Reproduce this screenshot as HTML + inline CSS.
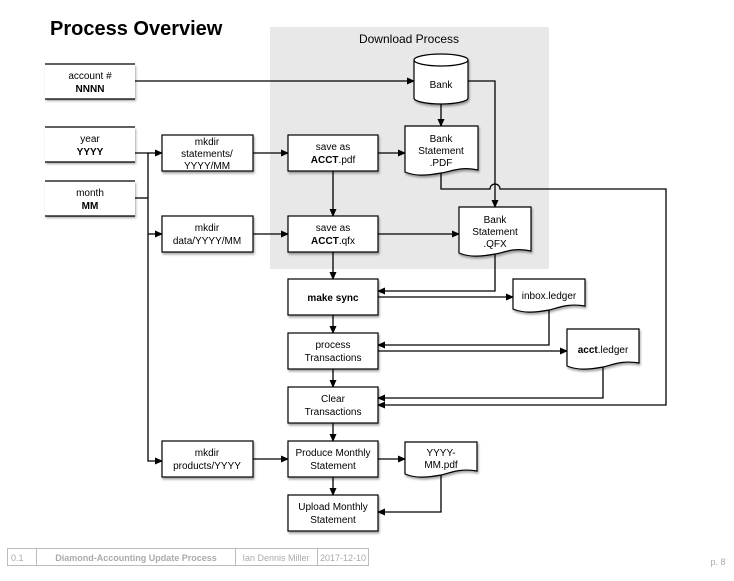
<!DOCTYPE html>
<html><head><meta charset="utf-8"><style>
body{margin:0;background:#fff;width:734px;height:576px;overflow:hidden}
svg text{font-family:"Liberation Sans",sans-serif;font-size:10px;fill:#000}
</style></head><body>
<svg width="734" height="576" viewBox="0 0 734 576" xmlns="http://www.w3.org/2000/svg">
<defs>
<marker id="a" markerWidth="8" markerHeight="8" refX="7" refY="4" orient="auto" markerUnits="userSpaceOnUse"><path d="M0,0.5 L8,4 L0,7.5z" fill="#000"/></marker>
<filter id="s" x="-10%" y="-10%" width="130%" height="140%"><feDropShadow dx="1" dy="2" stdDeviation="1" flood-color="#000" flood-opacity="0.35"/></filter>
</defs>
<text x="50" y="35" style="font-size:20px;font-weight:bold">Process Overview</text>
<rect x="270" y="27" width="279" height="242" fill="#e8e8e8"/>
<text x="409" y="43" text-anchor="middle" style="font-size:12px">Download Process</text>

<g fill="none" stroke="#000" stroke-width="1.3">
<path d="M135,81 H414" marker-end="url(#a)"/>
<path d="M441,104 V126" marker-end="url(#a)"/>
<path d="M468,81 H495 V207" marker-end="url(#a)"/>
<path d="M441,172 V189 H490 A5,5 0 0 1 500,189 H666 V405 H378" marker-end="url(#a)"/>
<path d="M135,153 H148 V461 H162" marker-end="url(#a)"/>
<path d="M135,198 H148"/>
<path d="M148,153 H162" marker-end="url(#a)"/>
<path d="M148,234 H162" marker-end="url(#a)"/>
<path d="M253,153 H288" marker-end="url(#a)"/>
<path d="M253,234 H288" marker-end="url(#a)"/>
<path d="M378,153 H405" marker-end="url(#a)"/>
<path d="M378,234 H459" marker-end="url(#a)"/>
<path d="M333,171 V216" marker-end="url(#a)"/>
<path d="M333,252 V279" marker-end="url(#a)"/>
<path d="M495,254 V291 H378" marker-end="url(#a)"/>
<path d="M378,297 H513" marker-end="url(#a)"/>
<path d="M549,310 V345 H378" marker-end="url(#a)"/>
<path d="M378,351 H567" marker-end="url(#a)"/>
<path d="M603,367 V398 H378" marker-end="url(#a)"/>
<path d="M333,315 V333" marker-end="url(#a)"/>
<path d="M333,369 V387" marker-end="url(#a)"/>
<path d="M333,423 V441" marker-end="url(#a)"/>
<path d="M333,477 V495" marker-end="url(#a)"/>
<path d="M253,459 H288" marker-end="url(#a)"/>
<path d="M378,459 H405" marker-end="url(#a)"/>
<path d="M441,475 V512 H378" marker-end="url(#a)"/>
</g>

<g fill="#fff" stroke="#000" stroke-width="1.2">
<rect x="45" y="64" width="90" height="35" stroke="none" filter="url(#s)"/>
<path d="M45,64 H135 M45,99 H135"/>
<rect x="45" y="127" width="90" height="35" stroke="none" filter="url(#s)"/>
<path d="M45,127 H135 M45,162 H135"/>
<rect x="45" y="181" width="90" height="35" stroke="none" filter="url(#s)"/>
<path d="M45,181 H135 M45,216 H135"/>
</g>
<g fill="#fff" stroke="#000" stroke-width="1.2" filter="url(#s)">
<rect x="162" y="135" width="91" height="36"/>
<rect x="162" y="216" width="91" height="36"/>
<rect x="288" y="135" width="90" height="36"/>
<rect x="288" y="216" width="90" height="36"/>
<rect x="288" y="279" width="90" height="36"/>
<rect x="288" y="333" width="90" height="36"/>
<rect x="288" y="387" width="90" height="36"/>
<rect x="288" y="441" width="90" height="36"/>
<rect x="288" y="495" width="90" height="36"/>
<rect x="162" y="441" width="91" height="36"/>
<path d="M414,60 V98 A27,6 0 0 0 468,98 V60 A27,6 0 0 0 414,60 A27,6 0 0 0 468,60"/>
<path d="M405,126 H478 V170 C460,166 450,172 441,173 C425,176 415,176 405,172 Z"/>
<path d="M459,207 H531 V251 C513,247 503,253 495,254 C479,257 469,257 459,253 Z"/>
<path d="M513,279 H585 V306 C568,303 558,308 549,310 C533,313 523,313 513,309 Z"/>
<path d="M567,329 H639 V363 C622,360 612,365 603,367 C587,370 577,370 567,366 Z"/>
<path d="M405,442 H477 V471 C460,468 450,473 441,475 C425,478 415,478 405,474 Z"/>
</g>

<g text-anchor="middle">
<text x="90" y="79">account #</text><text x="90" y="92" font-weight="bold">NNNN</text>
<text x="90" y="142">year</text><text x="90" y="155" font-weight="bold">YYYY</text>
<text x="90" y="196">month</text><text x="90" y="209" font-weight="bold">MM</text>
<text x="207" y="145">mkdir</text><text x="207" y="157">statements/</text><text x="207" y="169">YYYY/MM</text>
<text x="207" y="231">mkdir</text><text x="207" y="244">data/YYYY/MM</text>
<text x="333" y="150">save as</text><text x="333" y="163"><tspan font-weight="bold">ACCT</tspan>.pdf</text>
<text x="333" y="231">save as</text><text x="333" y="244"><tspan font-weight="bold">ACCT</tspan>.qfx</text>
<text x="441" y="88">Bank</text>
<text x="441" y="142">Bank</text><text x="441" y="154">Statement</text><text x="441" y="166">.PDF</text>
<text x="495" y="223">Bank</text><text x="495" y="235">Statement</text><text x="495" y="247">.QFX</text>
<text x="333" y="301" font-weight="bold">make sync</text>
<text x="549" y="299">inbox.ledger</text>
<text x="333" y="348">process</text><text x="333" y="361">Transactions</text>
<text x="603" y="353"><tspan font-weight="bold">acct</tspan>.ledger</text>
<text x="333" y="402">Clear</text><text x="333" y="415">Transactions</text>
<text x="207" y="456">mkdir</text><text x="207" y="469">products/YYYY</text>
<text x="333" y="456">Produce Monthly</text><text x="333" y="469">Statement</text>
<text x="441" y="456">YYYY-</text><text x="441" y="468">MM.pdf</text>
<text x="333" y="510">Upload Monthly</text><text x="333" y="523">Statement</text>
</g>

<g fill="none" stroke="#bbb" stroke-width="1">
<rect x="7.5" y="548.5" width="361" height="17"/>
<path d="M36.5,548 V566 M235.5,548 V566 M317.5,548 V566"/>
</g>
<text x="11" y="561" style="font-size:9px;fill:#aaa">0.1</text>
<text x="136" y="561" text-anchor="middle" style="font-size:9px;fill:#aaa;font-weight:bold">Diamond-Accounting Update Process</text>
<text x="276" y="561" text-anchor="middle" style="font-size:9px;fill:#aaa">Ian Dennis Miller</text>
<text x="343" y="561" text-anchor="middle" style="font-size:9px;fill:#aaa">2017-12-10</text>
<text x="718" y="565" text-anchor="middle" style="font-size:9px;fill:#aaa">p. 8</text>
</svg>
</body></html>
